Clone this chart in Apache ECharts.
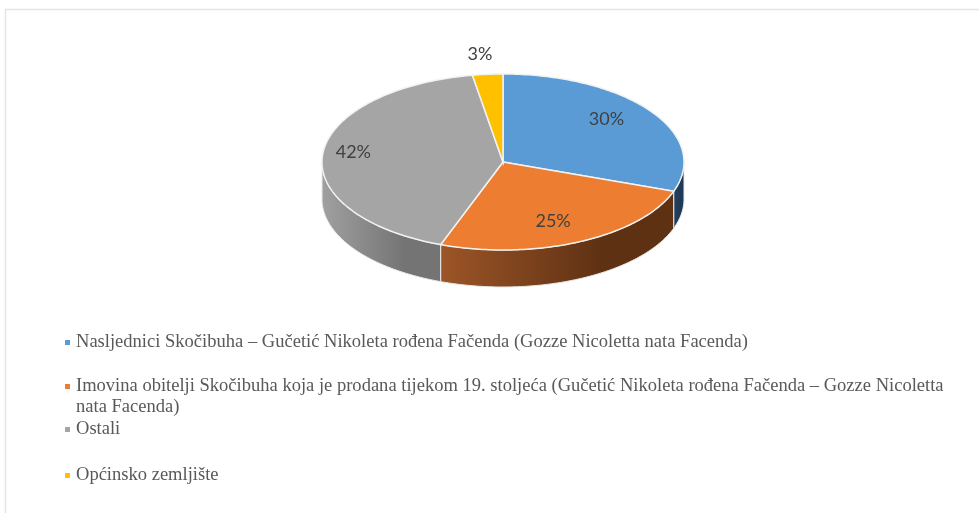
<!DOCTYPE html>
<html>
<head>
<meta charset="utf-8">
<style>
  html, body { margin: 0; padding: 0; background: #fff; }
  #chart { width: 979px; height: 513px; }
</style>
</head>
<body>
<div id="chart"></div>
<script src="https://cdn.jsdelivr.net/npm/echarts@6/dist/echarts.min.js"></script>
<script>
const names = [
  'Nasljednici Skočibuha – Gučetić Nikoleta rođena Fačenda (Gozze Nicoletta nata Facenda)',
  'Imovina obitelji Skočibuha koja je prodana tijekom 19. stoljeća (Gučetić Nikoleta rođena Fačenda – Gozze Nicoletta',
  'Ostali',
  'Općinsko zemljište'
]
const nameContinuation = 'nata Facenda)'
// shown rounded, the unrounded shares are estimated from the slice edges
const shares = [30.4, 25.2, 41.7, 2.7]

const topColors = ['#5b9bd5', '#ed7d31', '#a5a5a5', '#ffc000']
const sideColors = [
  ['#23405e', '#1f3a56'],
  ['#9c5527', '#5e3113'],
  ['#a0a0a0', '#747474'],
  ['#997300', '#997300']
]
// geometry of the tilted pie
const cx = 503
const cy = 162
const rx = 181
const ry = 88
const depth = 37
// label position as a fraction of the slice's mid point on the rim
const labelPull = [[0.70, 0.845], [0.65, 0.74], [0.83, 1.25], [1.5, 1.23]]
const legendTops = [333, 377, 420, 466]

const total = shares.reduce((a, b) => a + b, 0)

function rim (deg, drop) {
  // deg runs clockwise from 12 o'clock
  const t = deg * Math.PI / 180
  return [cx + rx * Math.sin(t), cy - ry * Math.cos(t) + (drop || 0)]
}

function renderSlice (index, params, api) {
  const before = shares.slice(0, index).reduce((a, b) => a + b, 0)
  const start = before / total * 360
  const end = start + api.value(0) / total * 360
  const top = [[cx, cy]]
  for (let d = start; d < end; d += 1) top.push(rim(d))
  top.push(rim(end))

  const children = []
  // only the part of the wall that faces the viewer, 90-270 degrees
  const from = Math.max(start, 90)
  const to = Math.min(end, 270)
  if (from < to) {
    const upper = []
    const lower = []
    for (let d = from; d < to; d += 1) {
      upper.push(rim(d))
      lower.unshift(rim(d, depth))
    }
    upper.push(rim(to))
    lower.unshift(rim(to, depth))
    const xs = upper.map(p => p[0])
    const x1 = Math.min.apply(null, xs)
    const x2 = Math.max.apply(null, xs)
    children.push({
      type: 'polygon',
      shape: {points: upper.concat(lower)},
      style: {
        fill: new echarts.graphic.LinearGradient(x1, 0, x1 + (x2 - x1) * 0.7, 0, [
          {offset: 0, color: sideColors[index][0]},
          {offset: 1, color: sideColors[index][1]}
        ], true),
        stroke: '#e9e9e9',
        lineWidth: 1
      }
    })
  }
  children.push({
    type: 'polygon',
    shape: {points: top},
    style: {fill: topColors[index], stroke: '#f2f2f2', lineWidth: 1.5}
  })
  const mid = rim((start + end) / 2)
  children.push({
    type: 'text',
    z2: 10,
    style: {
      x: cx + (mid[0] - cx) * labelPull[index][0],
      y: cy + (mid[1] - cy) * labelPull[index][1],
      text: Math.round(api.value(0)) + '%',
      fill: '#404040',
      font: '18px Lato',
      align: 'center',
      verticalAlign: 'middle'
    }
  })
  return {type: 'group', children: children}
}

const chart = echarts.init(document.getElementById('chart'), null, {renderer: 'canvas'})
chart.setOption({
  animation: false,
  color: topColors,
  backgroundColor: '#fff',
  legend: names.map((name, i) => ({
    data: [name],
    left: 65,
    top: legendTops[i],
    padding: 0,
    selectedMode: false,
    icon: 'rect',
    itemWidth: 5,
    itemHeight: 5,
    itemGap: 0,
    textStyle: {
      color: '#595959',
      fontFamily: 'Liberation Serif',
      fontSize: 18.55,
      padding: [0, 0, 0, 1]
    }
  })),
  graphic: [{
    type: 'rect',
    silent: true,
    shape: {x: 5.5, y: 9.5, width: 1100, height: 700},
    style: {fill: 'none', stroke: '#e4e4e4', lineWidth: 1.5}
  }, {
    type: 'text',
    left: 76,
    top: 398,
    style: {
      text: nameContinuation,
      fill: '#595959',
      font: '18.55px "Liberation Serif"'
    }
  }],
  series: names.map((name, i) => ({
    type: 'custom',
    name: name,
    coordinateSystem: 'none',
    data: [[shares[i]]],
    renderItem: (params, api) => renderSlice(i, params, api)
  }))
})
</script>
</body>
</html>
